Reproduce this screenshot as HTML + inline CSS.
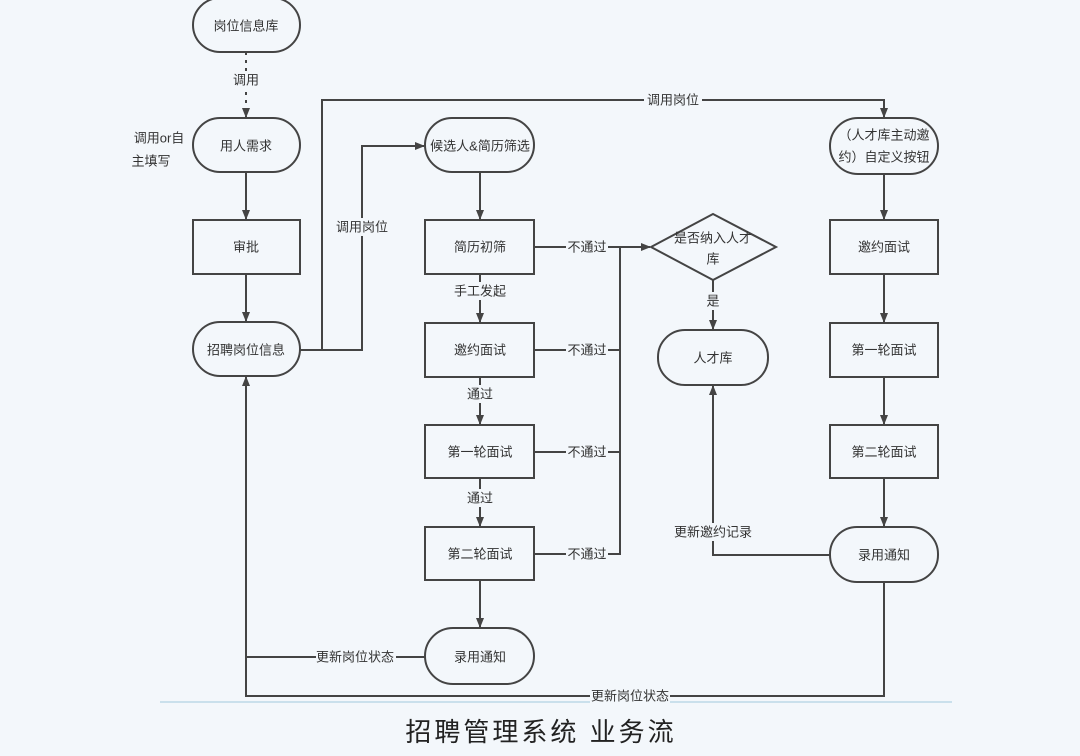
<!DOCTYPE html>
<html><head><meta charset="utf-8"><style>
html,body{margin:0;padding:0;background:#f3f7fb;}
svg{display:block;font-family:"Liberation Sans","Noto Sans CJK SC",sans-serif;}
</style></head><body>
<svg width="1080" height="756" viewBox="0 0 1080 756" xmlns="http://www.w3.org/2000/svg">
<defs><marker id="a" markerWidth="10" markerHeight="10" refX="9" refY="5" orient="auto" markerUnits="userSpaceOnUse"><path d="M0,1 L10,5 L0,9 z" fill="#444"/></marker></defs>
<rect width="1080" height="756" fill="#f3f7fb"/>
<g fill="none" stroke="#444" stroke-width="2">
<rect x="193" y="-2" width="107" height="54" rx="27"/>
<rect x="193" y="118" width="107" height="54" rx="27"/>
<rect x="193" y="220" width="107" height="54"/>
<rect x="193" y="322" width="107" height="54" rx="27"/>
<rect x="425" y="118" width="109" height="54" rx="27"/>
<rect x="425" y="220" width="109" height="54"/>
<rect x="425" y="323" width="109" height="54"/>
<rect x="425" y="425" width="109" height="53"/>
<rect x="425" y="527" width="109" height="53"/>
<rect x="425" y="628" width="109" height="56" rx="28"/>
<path d="M651,247 L713,214 L776,247 L713,280 Z"/>
<rect x="658" y="330" width="110" height="55" rx="27"/>
<rect x="830" y="118" width="108" height="56" rx="28"/>
<rect x="830" y="220" width="108" height="54"/>
<rect x="830" y="323" width="108" height="54"/>
<rect x="830" y="425" width="108" height="53"/>
<rect x="830" y="527" width="108" height="55" rx="27"/>
<path d="M246,52 V117" stroke-dasharray="3,5" marker-end="url(#a)"/>
<path d="M246,172 V219" marker-end="url(#a)"/>
<path d="M246,274 V321" marker-end="url(#a)"/>
<path d="M300,350 H322 V100 H884 V117" marker-end="url(#a)"/>
<path d="M300,350 H362 V146 H424" marker-end="url(#a)"/>
<path d="M480,172 V219" marker-end="url(#a)"/>
<path d="M480,274 V322" marker-end="url(#a)"/>
<path d="M480,377 V424" marker-end="url(#a)"/>
<path d="M480,478 V526" marker-end="url(#a)"/>
<path d="M480,580 V627" marker-end="url(#a)"/>
<path d="M425,657 H246"/>
<path d="M884,582 V696 H246 V377" marker-end="url(#a)"/>
<path d="M534,247 H650" marker-end="url(#a)"/>
<path d="M534,350 H620 M534,452 H620 M534,554 H620 V247"/>
<path d="M713,280 V329" marker-end="url(#a)"/>
<path d="M830,555 H713 V386" marker-end="url(#a)"/>
<path d="M884,174 V219" marker-end="url(#a)"/>
<path d="M884,274 V322" marker-end="url(#a)"/>
<path d="M884,377 V424" marker-end="url(#a)"/>
<path d="M884,478 V526" marker-end="url(#a)"/>
</g>
<line x1="160" y1="702" x2="952" y2="702" stroke="#bcd8e8" stroke-width="1.5"/>
<g font-size="13" fill="#333" text-anchor="middle" dominant-baseline="central">
<text x="246" y="26">岗位信息库</text>
<rect x="228" y="71" width="36" height="18" fill="#f3f7fb"/><text x="246" y="80">调用</text>
<text x="246" y="146">用人需求</text>
<text x="246" y="247">审批</text>
<text x="246" y="350">招聘岗位信息</text>
<text x="159" y="138">调用or自</text>
<text x="151" y="161" text-anchor="middle">主填写</text>
<rect x="644" y="92" width="58" height="17" fill="#f3f7fb"/><text x="673" y="100">调用岗位</text>
<rect x="334" y="218" width="58" height="18" fill="#f3f7fb"/><text x="362" y="227">调用岗位</text>
<text x="480" y="146">候选人&amp;简历筛选</text>
<text x="480" y="247">简历初筛</text>
<rect x="450" y="282" width="60" height="18" fill="#f3f7fb"/><text x="480" y="291">手工发起</text>
<text x="480" y="350">邀约面试</text>
<rect x="462" y="385" width="36" height="18" fill="#f3f7fb"/><text x="480" y="394">通过</text>
<text x="480" y="452">第一轮面试</text>
<rect x="462" y="489" width="36" height="18" fill="#f3f7fb"/><text x="480" y="498">通过</text>
<text x="480" y="554">第二轮面试</text>
<text x="480" y="657">录用通知</text>
<rect x="316" y="648" width="80" height="18" fill="#f3f7fb"/><text x="355" y="657">更新岗位状态</text>
<rect x="590" y="687" width="80" height="18" fill="#f3f7fb"/><text x="630" y="696">更新岗位状态</text>
<g>
<rect x="566" y="238" width="42" height="18" fill="#f3f7fb"/><text x="587" y="247">不通过</text>
<rect x="566" y="341" width="42" height="18" fill="#f3f7fb"/><text x="587" y="350">不通过</text>
<rect x="566" y="443" width="42" height="18" fill="#f3f7fb"/><text x="587" y="452">不通过</text>
<rect x="566" y="545" width="42" height="18" fill="#f3f7fb"/><text x="587" y="554">不通过</text>
</g>
<text x="713" y="238">是否纳入人才</text>
<text x="713" y="259">库</text>
<rect x="703" y="292" width="20" height="18" fill="#f3f7fb"/><text x="713" y="301">是</text>
<text x="713" y="358">人才库</text>
<rect x="672" y="523" width="82" height="18" fill="#f3f7fb"/><text x="713" y="532">更新邀约记录</text>
<text x="884" y="135">（人才库主动邀</text>
<text x="884" y="157">约）自定义按钮</text>
<text x="884" y="247">邀约面试</text>
<text x="884" y="350">第一轮面试</text>
<text x="884" y="452">第二轮面试</text>
<text x="884" y="555">录用通知</text>
<text x="541" y="732" font-size="26" letter-spacing="3" fill="#222">招聘管理系统 业务流</text>
</g>
</svg>
</body></html>
